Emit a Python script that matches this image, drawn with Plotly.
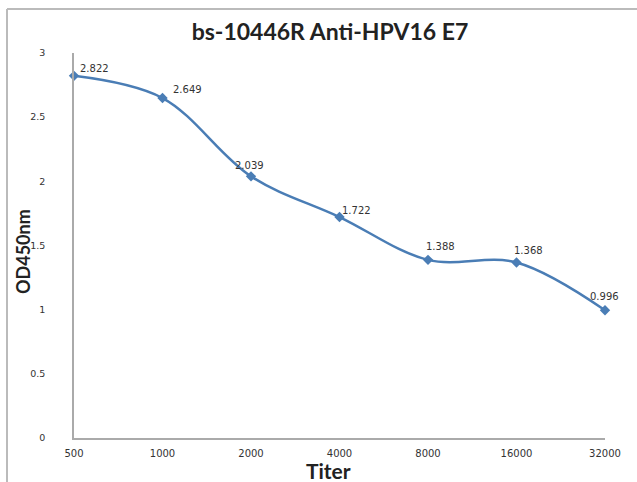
import plotly.graph_objects as go

titers = ["500", "1000", "2000", "4000", "8000", "16000", "32000"]
od450 = [2.822, 2.649, 2.039, 1.722, 1.388, 1.368, 0.996]
y_ticks = [0, 0.5, 1, 1.5, 2, 2.5, 3]
y_tick_labels = ["0", "0.5", "1", "1.5", "2", "2.5", "3"]

# label offsets (pixels) relative to each point
label_dx = [4, 8, -18, 0, -4, -5, -17]
label_dy = [7, 9, 11, 7, 13, 12, 14]

FONT = "Lato, Open Sans, sans-serif"
TFONT = "DejaVu Sans, Verdana, sans-serif"
color = "#4A7DB5"

W, H = 637, 482
L, R, T, B = 74, 605, 53, 438   # plot-area pixel box

xs = list(range(len(titers)))
fig = go.Figure()
fig.add_trace(go.Scatter(
    x=xs, y=od450,
    mode="lines+markers",
    line=dict(color=color, width=2.5, shape="spline", smoothing=1.0),
    marker=dict(symbol="diamond", size=8, color=color),
    cliponaxis=False,
    showlegend=False,
))

annotations = []
for x, v, dx, dy in zip(xs, od450, label_dx, label_dy):
    annotations.append(dict(
        x=x, y=v, xref="x", yref="y", text=f"{v:.3f}", showarrow=False,
        xanchor="left", yanchor="middle", xshift=dx, yshift=dy,
        font=dict(family=TFONT, size=10, color="#333333")))

annotations += [
    dict(text="<b>Titer</b>", x=328 / W, y=1 - 470 / H,
         xref="paper", yref="paper", showarrow=False,
         xanchor="center", yanchor="middle",
         font=dict(family=FONT, size=21, color="#222222")),
    dict(text="<b>OD450nm</b>", x=23 / W, y=1 - 252 / H, textangle=-90,
         xref="paper", yref="paper", showarrow=False,
         xanchor="center", yanchor="middle",
         font=dict(family=FONT, size=18, color="#222222")),
]

frame = dict(color="#BBBBBB", width=2)
fig.update_layout(
    width=W, height=H,
    margin=dict(l=0, r=0, t=0, b=0, autoexpand=False),
    paper_bgcolor="white", plot_bgcolor="white",
    title=dict(text="<b>bs-10446R Anti-HPV16 E7</b>", x=330 / W, xanchor="center",
               y=1 - 32 / H, yanchor="middle",
               font=dict(family=FONT, size=23, color="#222222")),
    xaxis=dict(
        domain=[L / W, R / W],
        range=[0, len(titers) - 1], automargin=False,
        tickmode="array", tickvals=xs, ticktext=titers,
        showgrid=False, zeroline=False,
        showline=True, linecolor="#AAAAAA", linewidth=1.5,
        ticks="", ticklabelstandoff=5,
        tickfont=dict(family=TFONT, size=10, color="#333333"),
    ),
    yaxis=dict(
        domain=[1 - B / H, 1 - T / H],
        range=[0, 3], automargin=False,
        tickmode="array", tickvals=y_ticks, ticktext=y_tick_labels,
        showgrid=False, zeroline=False,
        showline=True, linecolor="#AAAAAA", linewidth=1.5,
        ticks="", ticklabelstandoff=25,
        tickfont=dict(family=TFONT, size=9.5, color="#333333"),
    ),
    annotations=annotations,
    shapes=[
        dict(type="line", xref="paper", yref="paper",
             x0=7 / W, x1=7 / W, y0=0, y1=1 - 9 / H, line=frame),
        dict(type="line", xref="paper", yref="paper",
             x0=7 / W, x1=1, y0=1 - 9 / H, y1=1 - 9 / H, line=frame),
    ],
)

fig.write_html("out.html", config={"displayModeBar": False},
               post_script="document.body.style.margin='0';")
